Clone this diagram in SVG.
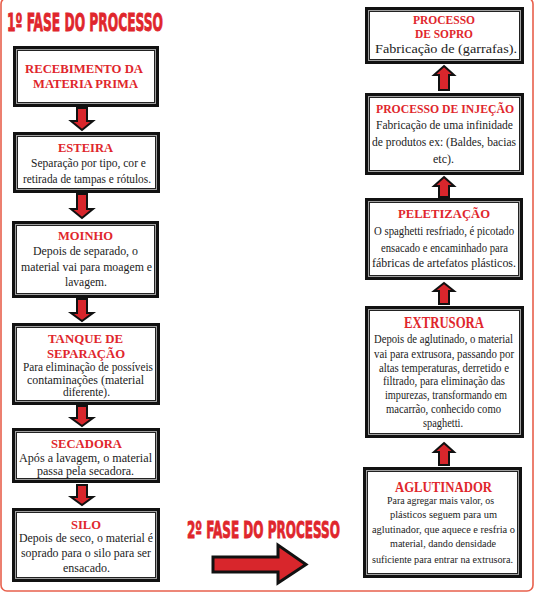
<svg xmlns="http://www.w3.org/2000/svg" width="536" height="596" viewBox="0 0 536 596">
<style>
.fo{fill:#a0a0a0;stroke:#111;stroke-width:3}
.fi{fill:#fff;stroke:#222;stroke-width:1}
.t{font-family:"Liberation Serif","Times New Roman",serif;font-weight:bold;fill:#e0262c;font-size:13px}
.b{font-family:"Liberation Serif","Times New Roman",serif;fill:#222;font-size:12px}
.h{font-family:"Liberation Sans Narrow","DejaVu Sans Condensed","Liberation Sans",sans-serif;font-weight:bold;fill:#e0262c;stroke:#e0262c;stroke-width:0.8;font-size:25px}
.ar{fill:#d8262c;stroke:#111;stroke-width:2;stroke-linejoin:miter}
</style>
<rect x="1" y="-2" width="532" height="593" rx="6" fill="#fff" stroke="#e8604c" stroke-width="1.6"/>
<text class="h" x="7" y="31" textLength="156" lengthAdjust="spacingAndGlyphs">1º FASE DO PROCESSO</text>
<text class="h" x="187" y="538" textLength="153" lengthAdjust="spacingAndGlyphs" style="font-size:23px">2º FASE DO PROCESSO</text>

<g id="connectors">
<path class="ar" d="M77,108 H87 V121 H93 L82,130 L71,121 H77 Z"/>
<path class="ar" d="M77,194 H87 V209 H93 L82,218 L71,209 H77 Z"/>
<path class="ar" d="M77,299 H87 V313 H93 L82,321 L71,313 H77 Z"/>
<path class="ar" d="M77,406 H87 V418 H93 L82,426 L71,418 H77 Z"/>
<path class="ar" d="M77,485 H87 V497 H93 L82,505 L71,497 H77 Z"/>
<path class="ar" d="M444,66 L454,75 H449 V90 H439 V75 H434 Z"/>
<path class="ar" d="M444,177 L454,186 H449 V197 H439 V186 H434 Z"/>
<path class="ar" d="M444,283 L454,291 H449 V304 H439 V291 H434 Z"/>
<path class="ar" d="M444,443 L454,452 H449 V465 H439 V452 H434 Z"/>
<path class="ar" style="stroke-width:3" d="M213,557 H278 V545 L306,564.5 L278,583 V572 H213 Z"/>
</g>

<g id="recebimento">
<rect class="fo" x="14.5" y="47.5" width="143" height="58"/>
<rect class="fi" x="17.5" y="50.5" width="137" height="52"/>
<text class="t" x="25" y="73" textLength="118" lengthAdjust="spacingAndGlyphs">RECEBIMENTO DA</text>
<text class="t" x="33" y="88" textLength="105" lengthAdjust="spacingAndGlyphs">MATERIA PRIMA</text>
</g>

<g id="esteira">
<rect class="fo" x="14.5" y="133.5" width="144" height="58"/>
<rect class="fi" x="17.5" y="136.5" width="138" height="52"/>
<text class="t" x="58" y="152" textLength="55" lengthAdjust="spacingAndGlyphs">ESTEIRA</text>
<text class="b" x="31" y="167" textLength="115" lengthAdjust="spacingAndGlyphs">Separação por tipo, cor e</text>
<text class="b" x="23" y="183" textLength="128" lengthAdjust="spacingAndGlyphs">retirada de tampas e rótulos.</text>
</g>

<g id="moinho">
<rect class="fo" x="13.5" y="222.5" width="144" height="74"/>
<rect class="fi" x="16.5" y="225.5" width="138" height="68"/>
<text class="t" x="58" y="240" textLength="55" lengthAdjust="spacingAndGlyphs">MOINHO</text>
<text class="b" x="33" y="255" textLength="105" lengthAdjust="spacingAndGlyphs">Depois de separado, o</text>
<text class="b" x="21" y="271" textLength="131" lengthAdjust="spacingAndGlyphs">material vai para moagem e</text>
<text class="b" x="65" y="286" textLength="42" lengthAdjust="spacingAndGlyphs">lavagem.</text>
</g>

<g id="tanque">
<rect class="fo" x="13.5" y="324.5" width="145" height="79"/>
<rect class="fi" x="16.5" y="327.5" width="139" height="73"/>
<text class="t" x="48" y="343" textLength="75" lengthAdjust="spacingAndGlyphs">TANQUE DE</text>
<text class="t" x="47" y="358" textLength="78" lengthAdjust="spacingAndGlyphs">SEPARAÇÃO</text>
<text class="b" x="23" y="371" textLength="130" lengthAdjust="spacingAndGlyphs" style="font-size:11.5px">Para eliminação de possíveis</text>
<text class="b" x="27" y="384" textLength="117" lengthAdjust="spacingAndGlyphs" style="font-size:11.5px">contaminações (material</text>
<text class="b" x="63" y="396" textLength="47" lengthAdjust="spacingAndGlyphs" style="font-size:11.5px">diferente).</text>
</g>

<g id="secadora">
<rect class="fo" x="13.5" y="429.5" width="145" height="52"/>
<rect class="fi" x="16.5" y="432.5" width="139" height="46"/>
<text class="t" x="51" y="448" textLength="71" lengthAdjust="spacingAndGlyphs">SECADORA</text>
<text class="b" x="19" y="462" textLength="133" lengthAdjust="spacingAndGlyphs">Após a lavagem, o material</text>
<text class="b" x="37" y="475" textLength="97" lengthAdjust="spacingAndGlyphs">passa pela secadora.</text>
</g>

<g id="silo">
<rect class="fo" x="13.5" y="509.5" width="145" height="71"/>
<rect class="fi" x="16.5" y="512.5" width="139" height="65"/>
<text class="t" x="71" y="529" textLength="30" lengthAdjust="spacingAndGlyphs">SILO</text>
<text class="b" x="19" y="542" textLength="134" lengthAdjust="spacingAndGlyphs" style="font-size:12.5px">Depois de seco, o material é</text>
<text class="b" x="21" y="557" textLength="130" lengthAdjust="spacingAndGlyphs" style="font-size:12.5px">soprado para o silo para ser</text>
<text class="b" x="63" y="572" textLength="47" lengthAdjust="spacingAndGlyphs" style="font-size:12.5px">ensacado.</text>
</g>

<g id="sopro">
<rect class="fo" x="366.5" y="8.5" width="156" height="54"/>
<rect class="fi" x="369.5" y="11.5" width="150" height="48"/>
<text class="t" x="413" y="24" textLength="62" lengthAdjust="spacingAndGlyphs" style="font-size:12px">PROCESSO</text>
<text class="t" x="415" y="38" textLength="58" lengthAdjust="spacingAndGlyphs" style="font-size:12px">DE SOPRO</text>
<text class="b" x="375" y="53" textLength="142" lengthAdjust="spacingAndGlyphs" style="font-size:13px">Fabricação de (garrafas).</text>
</g>

<g id="injecao">
<rect class="fo" x="366.5" y="94.5" width="156" height="79"/>
<rect class="fi" x="369.5" y="97.5" width="150" height="73"/>
<text class="t" x="376" y="113" textLength="138" lengthAdjust="spacingAndGlyphs" style="font-size:12px">PROCESSO DE INJEÇÃO</text>
<text class="b" x="376" y="129" textLength="137" lengthAdjust="spacingAndGlyphs" style="font-size:12.5px">Fabricação de uma infinidade</text>
<text class="b" x="372" y="146" textLength="144" lengthAdjust="spacingAndGlyphs" style="font-size:12.5px">de produtos ex: (Baldes, bacias</text>
<text class="b" x="433" y="163" textLength="21" lengthAdjust="spacingAndGlyphs" style="font-size:12.5px">etc).</text>
</g>

<g id="peletizacao">
<rect class="fo" x="366.5" y="199.5" width="155" height="79"/>
<rect class="fi" x="369.5" y="202.5" width="149" height="73"/>
<text class="t" x="398" y="218" textLength="92" lengthAdjust="spacingAndGlyphs">PELETIZAÇÃO</text>
<text class="b" x="374" y="235" textLength="140" lengthAdjust="spacingAndGlyphs">O spaghetti  resfriado, é picotado</text>
<text class="b" x="381" y="252" textLength="127" lengthAdjust="spacingAndGlyphs">ensacado e encaminhado para</text>
<text class="b" x="372" y="267" textLength="144" lengthAdjust="spacingAndGlyphs">fábricas de artefatos plásticos.</text>
</g>

<g id="extrusora">
<rect class="fo" x="366.5" y="307.5" width="156" height="129"/>
<rect class="fi" x="369.5" y="310.5" width="150" height="123"/>
<text class="t" x="404" y="328" textLength="80" lengthAdjust="spacingAndGlyphs" style="font-size:16.5px">EXTRUSORA</text>
<text class="b" x="374" y="343" textLength="139" lengthAdjust="spacingAndGlyphs">Depois de aglutinado, o material</text>
<text class="b" x="374" y="358" textLength="140" lengthAdjust="spacingAndGlyphs">vai para extrusora, passando por</text>
<text class="b" x="379" y="372" textLength="130" lengthAdjust="spacingAndGlyphs">altas temperaturas, derretido e</text>
<text class="b" x="383" y="385" textLength="122" lengthAdjust="spacingAndGlyphs">filtrado, para eliminação das</text>
<text class="b" x="385" y="399" textLength="122" lengthAdjust="spacingAndGlyphs">impurezas, transformando em</text>
<text class="b" x="386" y="413" textLength="115" lengthAdjust="spacingAndGlyphs">macarrão, conhecido como</text>
<text class="b" x="423" y="427" textLength="40" lengthAdjust="spacingAndGlyphs">spaghetti.</text>
</g>

<g id="aglutinador">
<rect class="fo" x="364.5" y="468.5" width="156" height="108"/>
<rect class="fi" x="367.5" y="471.5" width="150" height="102"/>
<text class="t" x="395" y="492" textLength="97" lengthAdjust="spacingAndGlyphs" style="font-size:15px">AGLUTINADOR</text>
<text class="b" x="387" y="504" textLength="107" lengthAdjust="spacingAndGlyphs" style="font-size:11px">Para agregar mais valor, os</text>
<text class="b" x="390" y="518" textLength="107" lengthAdjust="spacingAndGlyphs" style="font-size:11px">plásticos seguem  para um</text>
<text class="b" x="372" y="533" textLength="143" lengthAdjust="spacingAndGlyphs" style="font-size:11px">aglutinador, que aquece e resfria o</text>
<text class="b" x="390" y="547" textLength="106" lengthAdjust="spacingAndGlyphs" style="font-size:11px">material, dando densidade</text>
<text class="b" x="372" y="563" textLength="141" lengthAdjust="spacingAndGlyphs" style="font-size:11px">suficiente para entrar na extrusora.</text>
</g>
</svg>
